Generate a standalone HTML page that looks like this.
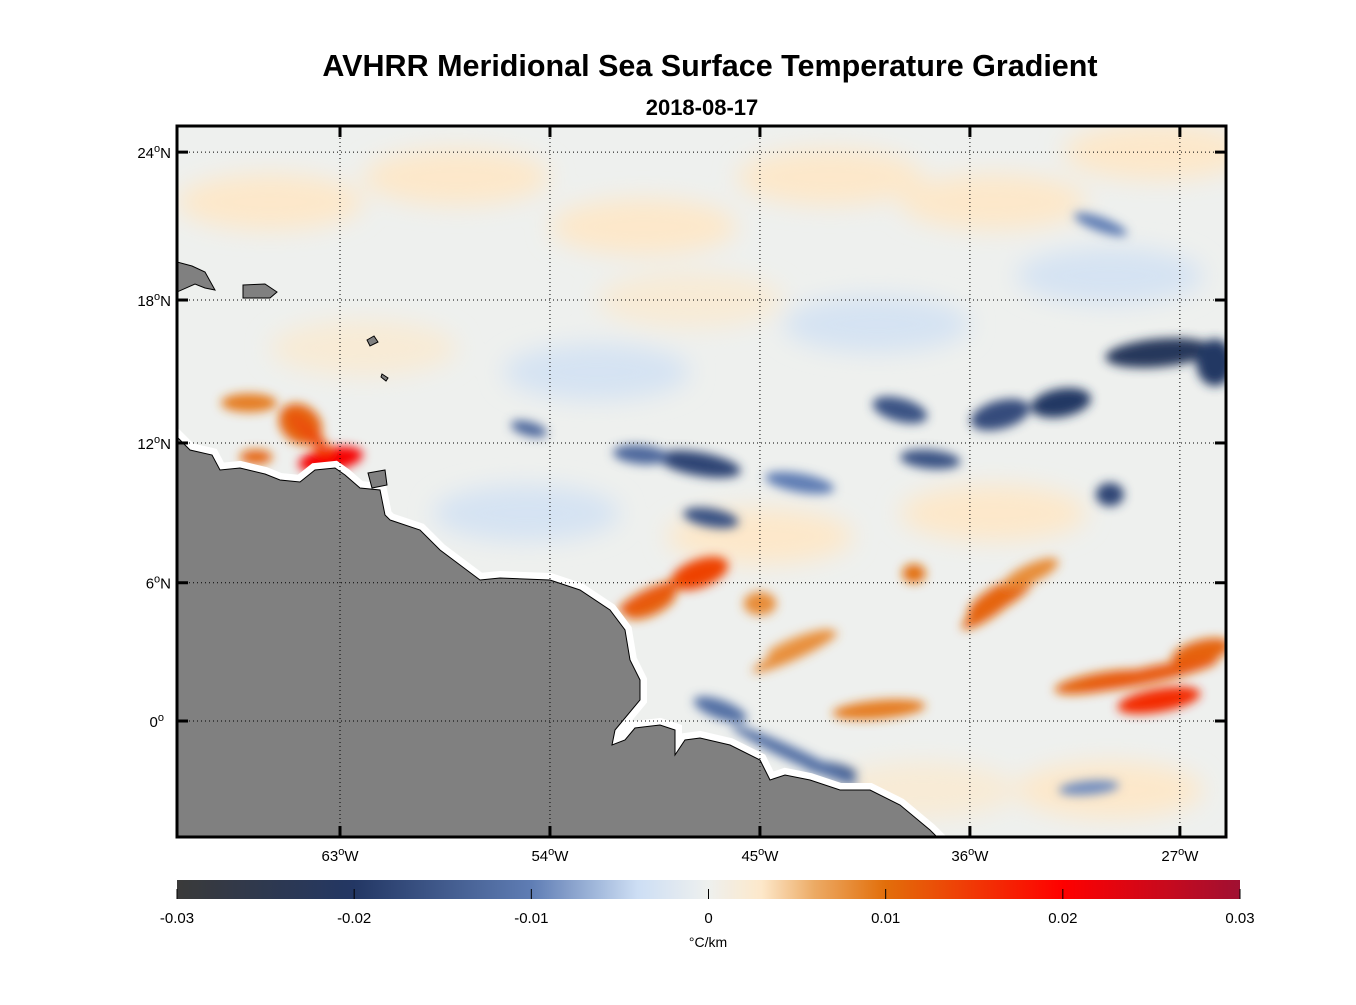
<!DOCTYPE html>
<html><head><meta charset="utf-8">
<style>
body{margin:0;background:#fff;font-family:"Liberation Sans",sans-serif;}
svg text{font-family:"Liberation Sans",sans-serif;}
</style></head>
<body>
<svg id="chart" width="1356" height="1000" viewBox="0 0 1356 1000" xmlns="http://www.w3.org/2000/svg">
<defs>
<filter id="blur" x="-50%" y="-50%" width="200%" height="200%"><feGaussianBlur stdDeviation="5"/></filter>
<filter id="blur2" x="-50%" y="-50%" width="200%" height="200%"><feGaussianBlur stdDeviation="12"/></filter>
<clipPath id="mapclip"><rect x="177" y="126" width="1049" height="711"/></clipPath>
<linearGradient id="cbgrad" x1="0" x2="1" y1="0" y2="0"></linearGradient>
</defs>
<text x="710" y="76" text-anchor="middle" font-size="30.5" font-weight="bold">AVHRR Meridional Sea Surface Temperature Gradient</text>
<text x="702" y="115" text-anchor="middle" font-size="22" font-weight="bold">2018-08-17</text>
<g clip-path="url(#mapclip)">
<rect x="177" y="126" width="1049" height="711" fill="#eef0ee"/>
<g id="soft" filter="url(#blur2)"></g>
<g id="blobs" filter="url(#blur)"></g>
<g id="land">
<polygon fill="#fff" stroke="#fff" stroke-width="14" points="177,437 190,450 212,455 220,470 240,468 265,474 280,480 300,482 315,470 335,468 345,475 360,488 380,490 385,515 390,520 420,530 440,550 460,565 480,580 500,578 550,580 580,590 610,610 625,630 630,660 640,680 640,700 615,730 612,745 625,740 635,728 660,725 675,730 675,755 685,740 700,738 730,745 760,760 770,780 785,775 810,780 840,790 870,790 900,805 930,830 940,840 177,840"/>
<polygon fill="#808080" stroke="#000" stroke-width="1" points="177,437 190,450 212,455 220,470 240,468 265,474 280,480 300,482 315,470 335,468 345,475 360,488 380,490 385,515 390,520 420,530 440,550 460,565 480,580 500,578 550,580 580,590 610,610 625,630 630,660 640,680 640,700 615,730 612,745 625,740 635,728 660,725 675,730 675,755 685,740 700,738 730,745 760,760 770,780 785,775 810,780 840,790 870,790 900,805 930,830 940,840 177,840"/>
<polygon fill="#808080" stroke="#000" stroke-width="1" points="368,473 385,470 387,485 372,488"/>
<polygon fill="#808080" stroke="#000" stroke-width="1" points="177,262 192,266 205,272 215,290 205,288 195,284 177,292"/>
<polygon fill="#808080" stroke="#000" stroke-width="1" points="243,285 265,284 277,292 270,298 243,298"/>
<polygon fill="#808080" stroke="#000" stroke-width="1" points="367,340 374,336 378,342 370,346"/>
<polygon fill="#808080" stroke="#000" stroke-width="1" points="382,374 388,378 386,381 381,377"/>
</g>
<g id="grid"></g>
</g>
<rect x="177" y="126" width="1049" height="711" fill="none" stroke="#000" stroke-width="3"/>
<g id="axes"></g>
<rect x="177" y="880" width="1063" height="19" fill="url(#cbgrad)"/>
<g id="cbticks"></g>
<text x="708" y="947" text-anchor="middle" font-size="14">°C/km</text>
</svg>
<script>
const lonTicks=[-63,-54,-45,-36,-27];
const lonLabels=["63","54","45","36","27"];
const latTicks=[24,18,12,6,0];
const latLabels=["24","18","12","6","0"];
const latHemi=["N","N","N","N",""];
const cbTicks=[-0.03,-0.02,-0.01,0,0.01,0.02,0.03];
const cbLabels=["-0.03","-0.02","-0.01","0","0.01","0.02","0.03"];
// feature centres (lon, lat), gradient value, extent (deg), orientation
const featLon=[-27.9,-25.5,-32.1,-39,-34.7,-47.6,-50.1,-54.9,-47.1,-37.7,-30,-30.4,-46.7,-42,-30.9,-43.3,-63.4,-64.7,-66.9,-66.6,-47.6,-49.7,-45,-34.7,-27.9,-30.4,-26.1,-39.9,-43.3,-38.4,-33.4,-43.5,-35.1,-28.3,-49.7,-64.3,-43.5];
const featLat=[15.8,15.4,13.7,13.4,13.2,11.1,11.5,12.6,8.8,11.3,9.8,21.1,0.5,-2.1,-2.9,10.3,11.3,12.8,13.7,11.4,6.4,5.1,5.1,5.4,0.9,1.7,3,0.5,3.4,6.4,6.4,3.0,4.9,2.0,5.4,12.4,-1.5];
const featVal=[-0.022,-0.02,-0.02,-0.016,-0.017,-0.018,-0.013,-0.013,-0.016,-0.016,-0.018,-0.01,-0.012,-0.015,-0.009,-0.01,0.021,0.011,0.009,0.011,0.014,0.011,0.008,0.011,0.016,0.011,0.011,0.009,0.007,0.01,0.008,0.008,0.011,0.012,0.012,0.013,-0.012];
const featRx=[2.3,0.8,1.3,1.2,1.3,1.8,1.2,0.8,1.2,1.3,0.6,1.2,1.2,1.2,1.3,1.5,1.4,1.0,1.2,0.7,1.3,1.2,0.7,1.6,1.8,2.0,1.3,2.0,1.5,0.5,1.3,2.0,1.5,3.0,1.5,1.2,3.0];
const featRy=[0.6,1.0,0.6,0.5,0.6,0.5,0.4,0.3,0.4,0.4,0.5,0.3,0.4,0.3,0.3,0.4,0.5,0.8,0.4,0.3,0.6,0.5,0.5,0.5,0.5,0.4,0.5,0.4,0.3,0.4,0.4,0.3,0.35,0.35,0.35,0.3,0.3];
const featRot=[-5,0,-10,15,-15,10,5,15,10,5,0,20,20,10,-5,10,-10,40,0,0,-20,-25,0,-30,-10,-10,-15,-5,-20,0,-25,-25,-35,-12,-25,45,25];
// broad weak background patches
const softLon=[-66,-58,-50,-42,-35,-28,-62,-52,-40,-30,-55,-45,-35,-60,-38,-30,-48];
const softLat=[22,23,21,23,22,24,16,15,17,19,9,8,9,3,-3,-3,18];
const softVal=[0.003,0.003,0.003,0.003,0.003,0.003,0.002,-0.003,-0.003,-0.003,-0.003,0.003,0.003,-0.003,0.002,0.003,0.002];
const x=lon=>340+(lon+63)*23.33;
const merc=lat=>Math.log(Math.tan(Math.PI/4+lat*Math.PI/360))*180/Math.PI;
const y=lat=>721-merc(lat)*23.0;
const cbx=v=>177+(v+0.03)/0.06*1063;
const stops=[[-0.03,[58,58,58]],[-0.02,[35,55,100]],[-0.01,[95,125,180]],[-0.004,[205,222,244]],[0,[238,240,238]],[0.003,[253,232,202]],[0.006,[236,170,100]],[0.01,[226,110,10]],[0.02,[255,0,0]],[0.03,[160,16,50]]];
function cmap(v){
 if(v<=stops[0][0])return rgb(stops[0][1]);
 for(let i=1;i<stops.length;i++){if(v<=stops[i][0]){const a=stops[i-1],b=stops[i];const t=(v-a[0])/(b[0]-a[0]);return rgb(a[1].map((c,k)=>c+(b[1][k]-c)*t));}}
 return rgb(stops[stops.length-1][1]);
}
function rgb(c){return `rgb(${c.map(Math.round).join(',')})`;}
const NS='http://www.w3.org/2000/svg';
function mk(tag,attrs,parent){const e=document.createElementNS(NS,tag);for(const k in attrs)e.setAttribute(k,attrs[k]);parent.appendChild(e);return e;}
const soft=document.getElementById('soft');
softLon.forEach((lo,i)=>{
 const e=mk('ellipse',{cx:x(lo),cy:y(softLat[i]),rx:4*23.33,ry:1.2*23.5,fill:cmap(softVal[i])},soft);
 
 
});
const blobs=document.getElementById('blobs');
featLon.forEach((lo,i)=>{
 const cx=x(lo),cy=y(featLat[i]);
 const e=mk('ellipse',{cx:cx,cy:cy,rx:featRx[i]*23.33,ry:featRy[i]*23.5,fill:cmap(featVal[i]),transform:`rotate(${featRot[i]} ${cx} ${cy})`},blobs);
 
 
});
const grid=document.getElementById('grid');
lonTicks.forEach(l=>{const e=mk('line',{x1:x(l),x2:x(l),y1:126,y2:837,stroke:'#000','stroke-width':1,'stroke-dasharray':'1,3'},grid);
 });
latTicks.forEach(l=>{const e=mk('line',{x1:177,x2:1226,y1:y(l),y2:y(l),stroke:'#000','stroke-width':1,'stroke-dasharray':'1,3'},grid);
 });
const axes=document.getElementById('axes');
function degLabel(t,num,hemi){
 t.appendChild(document.createTextNode(num));
 const s=mk('tspan',{'font-size':11,dy:-6},t);s.textContent='o';
 if(hemi){const h=mk('tspan',{dy:6},t);h.textContent=hemi;}
}
lonTicks.forEach((l,i)=>{
 mk('line',{x1:x(l),x2:x(l),y1:826,y2:837,stroke:'#000','stroke-width':3},axes);
 mk('line',{x1:x(l),x2:x(l),y1:126,y2:137,stroke:'#000','stroke-width':3},axes);
 const t=mk('text',{x:x(l),y:861,'text-anchor':'middle','font-size':15},axes);
 degLabel(t,lonLabels[i],'W');
 
});
latTicks.forEach((l,i)=>{
 mk('line',{x1:177,x2:188,y1:y(l),y2:y(l),stroke:'#000','stroke-width':3},axes);
 mk('line',{x1:1215,x2:1226,y1:y(l),y2:y(l),stroke:'#000','stroke-width':3},axes);
 const t=mk('text',{x:latHemi[i]?171:164,y:y(l)+6,'text-anchor':'end','font-size':15},axes);
 degLabel(t,latLabels[i],latHemi[i]);
 
});
const grad=document.getElementById('cbgrad');
for(let i=0;i<=60;i++){const v=-0.03+i*0.001;mk('stop',{offset:(i/60),'stop-color':cmap(v)},grad);}
const cbt=document.getElementById('cbticks');
cbTicks.forEach((v,i)=>{
 mk('line',{x1:cbx(v),x2:cbx(v),y1:889,y2:899,stroke:'#000','stroke-width':1},cbt);
 const t=mk('text',{x:cbx(v),y:923,'text-anchor':'middle','font-size':15},cbt);
 t.textContent=cbLabels[i];
 
});
</script>
</body></html>
